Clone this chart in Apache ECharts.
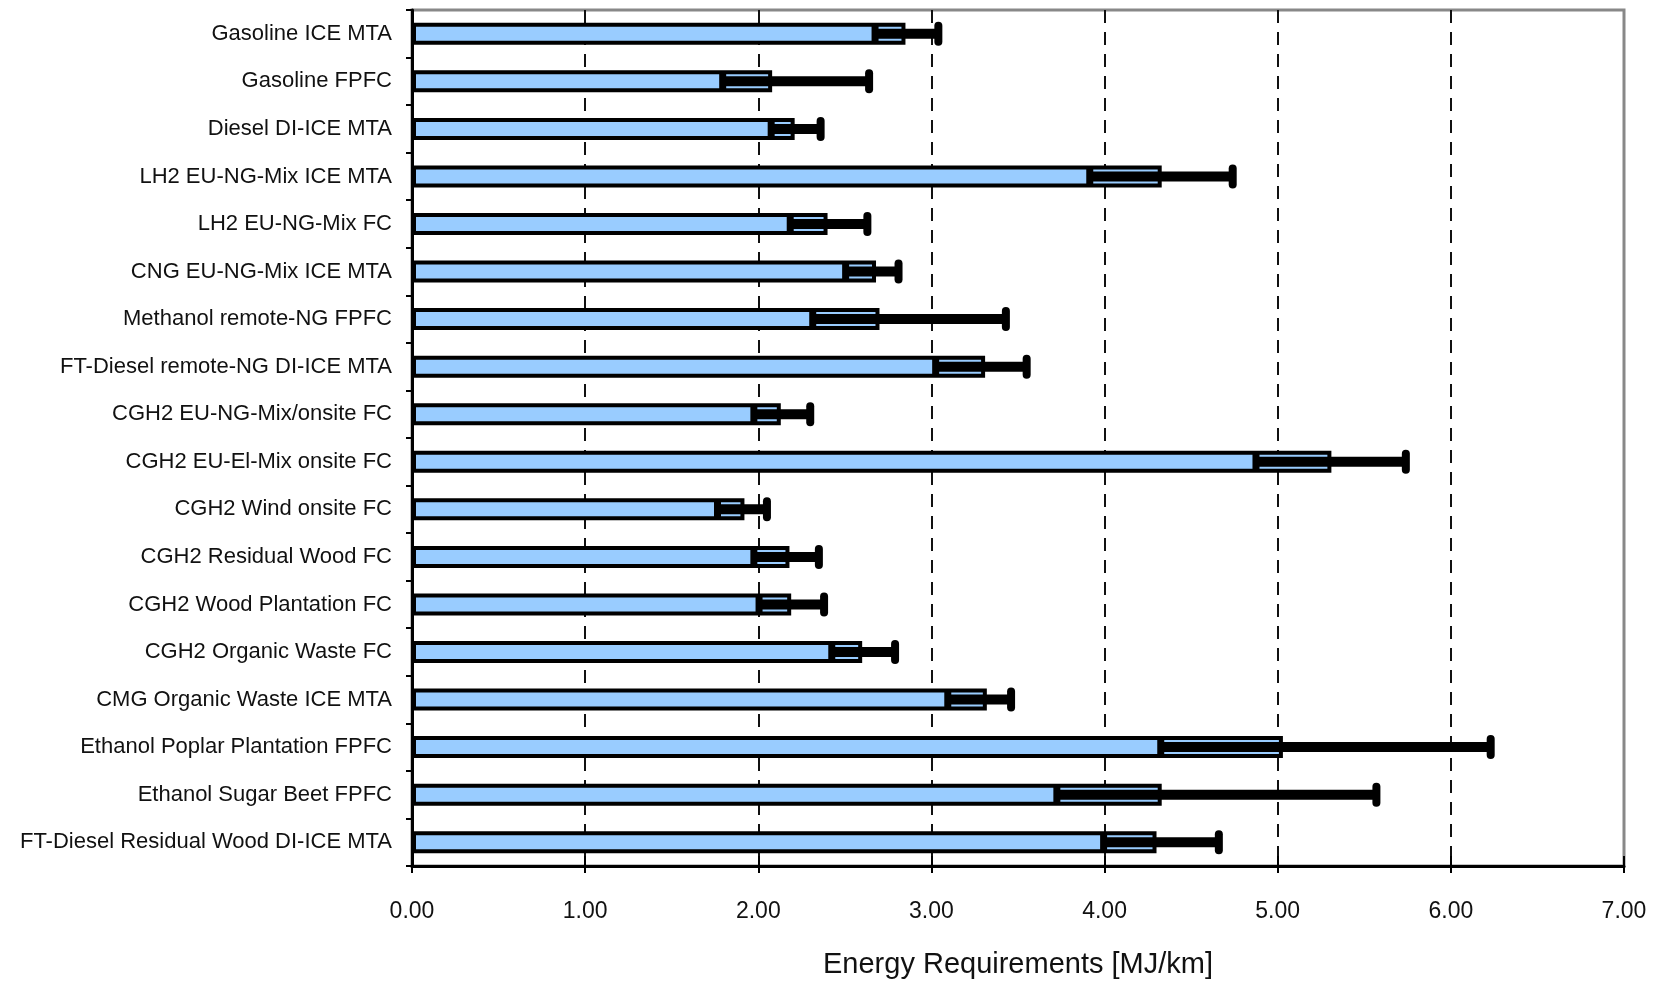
<!DOCTYPE html>
<html>
<head>
<meta charset="utf-8">
<title>Energy Requirements</title>
<script src="https://cdn.jsdelivr.net/npm/echarts@6/dist/echarts.min.js"></script>
<style>
  html, body { margin: 0; padding: 0; background: #fff; }
  #chart { width: 1666px; height: 984px; }
</style>
</head>
<body>
<div id="chart"></div>
<script>
const categories = [
  "Gasoline ICE MTA",
  "Gasoline FPFC",
  "Diesel DI-ICE MTA",
  "LH2 EU-NG-Mix ICE MTA",
  "LH2 EU-NG-Mix FC",
  "CNG EU-NG-Mix ICE MTA",
  "Methanol remote-NG FPFC",
  "FT-Diesel remote-NG DI-ICE MTA",
  "CGH2 EU-NG-Mix/onsite FC",
  "CGH2 EU-El-Mix onsite FC",
  "CGH2 Wind onsite FC",
  "CGH2 Residual Wood FC",
  "CGH2 Wood Plantation FC",
  "CGH2 Organic Waste FC",
  "CMG Organic Waste ICE MTA",
  "Ethanol Poplar Plantation FPFC",
  "Ethanol Sugar Beet FPFC",
  "FT-Diesel Residual Wood DI-ICE MTA"
];

// bar end (MJ/km)
const barValues = [2.85, 2.08, 2.21, 4.33, 2.40, 2.68, 2.70, 3.31, 2.13, 5.31, 1.92, 2.18, 2.19, 2.60, 3.32, 5.03, 4.33, 4.30];
// lower end of range
const lowValues = [2.66, 1.78, 2.06, 3.90, 2.17, 2.49, 2.30, 3.01, 1.96, 4.86, 1.75, 1.96, 1.99, 2.41, 3.08, 4.31, 3.71, 3.98];
// upper end of range
const highValues = [3.04, 2.64, 2.36, 4.74, 2.63, 2.81, 3.43, 3.55, 2.30, 5.74, 2.05, 2.35, 2.38, 2.79, 3.46, 6.23, 5.57, 4.66];

const xTicks = ["0.00", "1.00", "2.00", "3.00", "4.00", "5.00", "6.00", "7.00"];

const font = "'Liberation Sans', Arial, sans-serif";

const rangeData = categories.map((c, i) => [i, lowValues[i], highValues[i]]);

const chart = echarts.init(document.getElementById("chart"));

chart.setOption({
  animation: false,
  backgroundColor: "#fff",
  grid: {
    left: 412,
    right: 42,
    top: 10,
    bottom: 117,
    show: true,
    borderColor: "#888",
    borderWidth: 3
  },
  xAxis: [
    {
      type: "value",
      position: "bottom",
      min: 0,
      max: 7,
      interval: 1,
      name: "Energy Requirements [MJ/km]",
      nameLocation: "middle",
      nameGap: 84,
      nameTextStyle: { fontFamily: font, fontSize: 29, color: "#111" },
      axisLine: { show: true, lineStyle: { color: "#000", width: 3 } },
      axisTick: { show: true, inside: true, length: 10, lineStyle: { color: "#000", width: 2 } },
      axisLabel: {
        margin: 34,
        fontFamily: font,
        fontSize: 23,
        color: "#111",
        formatter: (v) => xTicks[Math.round(v)]
      },
      splitLine: {
        show: true,
        showMinLine: false,
        showMaxLine: false,
        lineStyle: { color: "#111", width: 2, type: [13, 9] }
      }
    },
    {
      // outer half of the crossing ticks
      type: "value",
      position: "bottom",
      min: 0,
      max: 7,
      interval: 1,
      axisLine: { show: false },
      axisTick: { show: true, length: 7, lineStyle: { color: "#000", width: 2 } },
      axisLabel: { show: false },
      splitLine: { show: false }
    }
  ],
  yAxis: {
    type: "category",
    inverse: true,
    data: categories,
    axisLine: { show: true, lineStyle: { color: "#000", width: 3 } },
    axisTick: { show: true, length: 6, lineStyle: { color: "#000", width: 2 } },
    axisLabel: { margin: 20, fontFamily: font, fontSize: 22, color: "#111" },
    splitLine: { show: false }
  },
  series: [
    {
      type: "bar",
      data: barValues,
      barWidth: 22,
      itemStyle: { color: "#99CCFF", borderColor: "#000", borderWidth: 4 },
      z: 2
    },
    {
      type: "custom",
      data: rangeData,
      encode: { x: [1, 2], y: 0 },
      z: 3,
      renderItem: (params, api) => {
        const cat = api.value(0);
        const lo = api.coord([api.value(1), cat]);
        const hi = api.coord([api.value(2), cat]);
        const y = lo[1];
        return {
          type: "group",
          children: [
            {
              type: "rect",
              shape: { x: lo[0], y: y - 5, width: hi[0] - lo[0], height: 10 },
              style: { fill: "#000" }
            },
            {
              type: "rect",
              shape: { x: lo[0] - 1, y: y - 9, width: 7, height: 18 },
              style: { fill: "#000" }
            },
            {
              type: "rect",
              shape: { x: hi[0] - 4, y: y - 12, width: 8, height: 24, r: 4 },
              style: { fill: "#000" }
            }
          ]
        };
      }
    }
  ]
});

window.addEventListener("resize", () => chart.resize());
</script>
</body>
</html>
